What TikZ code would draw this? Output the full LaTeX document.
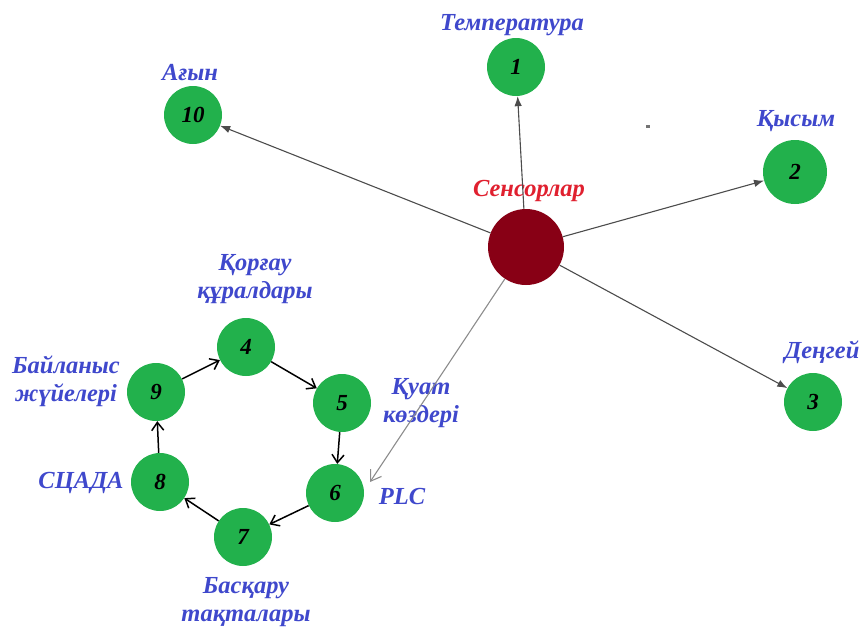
\documentclass[tikz,border=0pt]{standalone}
\usepackage{fontspec}
\setmainfont{Liberation Serif}
\usetikzlibrary{arrows.meta}
\definecolor{nodegreen}{HTML}{22B14C}
\definecolor{hubred}{HTML}{880015}
\definecolor{hubtext}{HTML}{E0202F}
\definecolor{labelblue}{HTML}{3F48CC}
\begin{document}
\begin{tikzpicture}[x=1pt,y=-1pt,
  item/.style={circle,fill=nodegreen,minimum size=58pt,inner sep=0pt,
    font=\bfseries\itshape\fontsize{23}{23}\selectfont,text=black},
  hub/.style={circle,fill=hubred,minimum size=76pt,inner sep=0pt},
  tag/.style={font=\bfseries\itshape\fontsize{24.5}{28}\selectfont,text=labelblue,align=center,inner sep=0pt},
  spoke/.style={draw=black!70,line width=1.1pt,-{Latex[length=10pt,width=7.5pt]}},
  lightspoke/.style={draw=black!45,line width=1.1pt,-{Straight Barb[length=10pt,width=13pt]}},
  ring/.style={draw=black,line width=1.5pt,-{Straight Barb[length=8pt,width=12pt]}}
]
\useasboundingbox (0,0) rectangle (862,627);

% hub and sensor nodes
\node[hub] (hub) at (526,247) {};
\node[item] (n1) at (516,67) {1};
\node[item,minimum size=64pt] (n2) at (795,172) {2};
\node[item] (n3) at (813,402) {3};
\node[item] (n10) at (193,115) {10};

% ring of components
\node[item] (n4) at (246,347) {4};
\node[item] (n5) at (342,403) {5};
\node[item] (n6) at (335,493) {6};
\node[item] (n7) at (243,537) {7};
\node[item] (n8) at (160,482) {8};
\node[item] (n9) at (156,392) {9};

% labels
\node[font=\bfseries\itshape\fontsize{24.5}{24.5}\selectfont,text=hubtext,inner sep=0pt] (lhub) at (529,191) {Сенсорлар};
\node[tag] (l1) at (512,25) {Температура};
\node[tag] (l2) at (796,121) {Қысым};
\node[tag] (l3) at (822,352) {Деңгей};
\node[tag] (l10) at (190,73) {Ағын};
\node[tag] (l4) at (255,279) {Қорғау\\құралдары};
\node[tag] (l5) at (421,403) {Қуат\\көздері};
\node[tag] (l6) at (402,497) {PLC};
\node[tag] (l7) at (246,602) {Басқару\\тақталары};
\node[tag] (l8) at (81,483) {СЦАДА};
\node[tag] (l9) at (66,381) {Байланыс\\жүйелері};

% stray mark
\fill[black!55] (646,125) rectangle (650,128);

% spokes from the hub
\coordinate (plctip) at (370,482);
\draw[spoke] (hub) -- (n1);
\draw[spoke] (hub) -- (n2);
\draw[spoke] (hub) -- (n3);
\draw[spoke] (hub) -- (n10);
\draw[lightspoke] (hub) -- (plctip);

% cycle
\draw[ring] (n9) -- (n4);
\draw[ring] (n4) -- (n5);
\draw[ring] (n5) -- (n6);
\draw[ring] (n6) -- (n7);
\draw[ring] (n7) -- (n8);
\draw[ring] (n8) -- (n9);
\end{tikzpicture}
\end{document}
